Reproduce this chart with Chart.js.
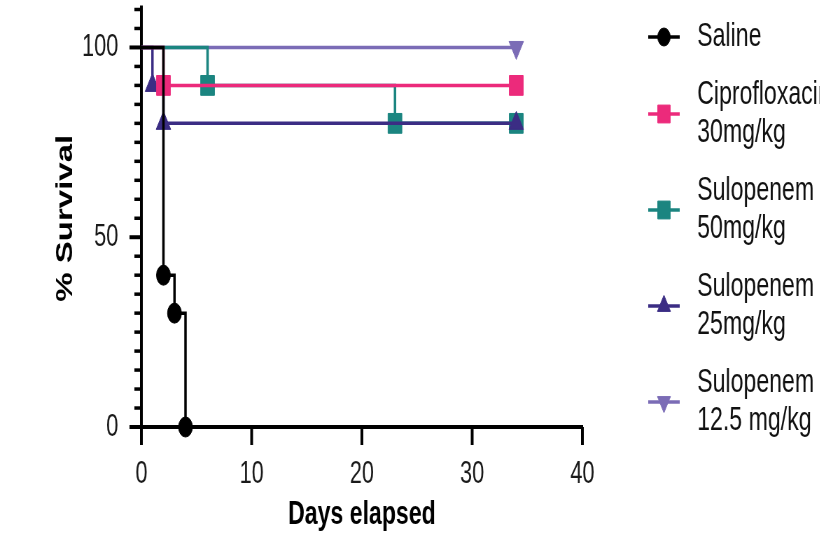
<!DOCTYPE html>
<html>
<head>
<meta charset="utf-8">
<title>Survival</title>
<script src="https://cdn.jsdelivr.net/npm/chart.js@4.4.1/dist/chart.umd.min.js"></script>
<style>
  html, body { margin: 0; padding: 0; background: #fff; overflow: hidden; }
  /* the source picture is squeezed sideways, so draw wide and squeeze it */
  #wrap { width: 1172px; height: 540px; transform: scaleX(0.7); transform-origin: 0 0; }
</style>
</head>
<body>
<div id="wrap"><canvas id="survivalChart"></canvas></div>
<script>
// === DATA (Kaplan-Meier steps: day of event, % survival after it) ===
const salineDays = [0, 2, 3, 4];
const salineSurvival = [100, 40, 30, 0];
const ciproDays = [0, 2, 34];
const ciproSurvival = [100, 90, 90];
const sul50Days = [0, 6, 23, 34];
const sul50Survival = [100, 90, 80, 80];
const sul25Days = [0, 1, 2, 34];
const sul25Survival = [100, 90, 80, 80];
const sul12Days = [0, 34];
const sul12Survival = [100, 100];

const legendLabels = [
  ['Saline'],
  ['Ciprofloxacin', '30mg/kg'],
  ['Sulopenem', '50mg/kg'],
  ['Sulopenem', '25mg/kg'],
  ['Sulopenem', '12.5 mg/kg']
];
const yLabelTicks = [0, 50, 100];

const FONT = '"Liberation Sans", Arial, sans-serif';
Chart.defaults.font.family = FONT;

function toPoints(days, surv) {
  return days.map((d, i) => ({ x: d, y: surv[i] }));
}

// no marker on the starting point
function markerSizes(days, r) {
  return days.map((d, i) => (i === 0 ? 0 : r));
}

const series = [
  { days: salineDays, surv: salineSurvival, color: '#000000', style: 'circle', r: 10, rot: 0, order: 0 },
  { days: ciproDays, surv: ciproSurvival, color: '#EC2A7B', style: 'rect', r: 14, rot: 0, order: 1 },
  { days: sul50Days, surv: sul50Survival, color: '#1B8580', style: 'rect', r: 14, rot: 0, order: 3 },
  { days: sul25Days, surv: sul25Survival, color: '#3B2D84', style: 'triangle', r: 12, rot: 0, order: 2 },
  { days: sul12Days, surv: sul12Survival, color: '#7B6CB6', style: 'triangle', r: 12, rot: 180, order: 4 }
];

const datasets = series.map((s, i) => ({
  label: legendLabels[i].join(' '),
  data: toPoints(s.days, s.surv),
  borderColor: s.color,
  backgroundColor: s.color,
  borderWidth: 3.5,
  stepped: 'before',
  fill: false,
  pointStyle: s.style,
  pointRotation: s.rot,
  pointRadius: markerSizes(s.days, s.r),
  pointHoverRadius: markerSizes(s.days, s.r),
  pointBorderWidth: 1,
  pointBackgroundColor: s.color,
  pointBorderColor: s.color,
  clip: false,
  order: s.order
}));

// fallback marker drawing for the legend
function drawMarker(ctx, style, x, y, r, rot) {
  if (Chart.helpers && Chart.helpers.drawPoint) {
    Chart.helpers.drawPoint(ctx, { pointStyle: style, radius: r, rotation: rot, borderWidth: 1 }, x, y);
    return;
  }
  ctx.beginPath();
  if (style === 'circle') {
    ctx.arc(x, y, r, 0, Math.PI * 2);
  } else if (style === 'rect') {
    const h = r * Math.SQRT1_2;
    ctx.rect(x - h, y - h, 2 * h, 2 * h);
  } else {
    let a = rot * Math.PI / 180;
    ctx.moveTo(x + Math.sin(a) * r, y - Math.cos(a) * r);
    a += 2 * Math.PI / 3;
    ctx.lineTo(x + Math.sin(a) * r, y - Math.cos(a) * r);
    a += 2 * Math.PI / 3;
    ctx.lineTo(x + Math.sin(a) * r, y - Math.cos(a) * r);
    ctx.closePath();
  }
  ctx.fill();
  ctx.stroke();
}

// === tick marks: long ones at labelled values, short minor ones ===
const axisTicks = {
  id: 'axisTicks',
  afterDraw(chart) {
    const { ctx, chartArea, scales } = chart;
    ctx.save();
    ctx.strokeStyle = '#000';
    scales.y.ticks.forEach(t => {
      const py = scales.y.getPixelForValue(t.value);
      const major = yLabelTicks.includes(t.value);
      ctx.lineWidth = major ? 4 : 3.5;
      ctx.beginPath();
      ctx.moveTo(chartArea.left - (major ? 17 : 10), py);
      ctx.lineTo(chartArea.left, py);
      ctx.stroke();
    });
    // axis line runs a little past the top tick
    ctx.lineWidth = 4;
    ctx.beginPath();
    ctx.moveTo(chartArea.left, chartArea.top);
    ctx.lineTo(chartArea.left, chartArea.top - 4);
    ctx.stroke();
    scales.x.ticks.forEach(t => {
      const px = scales.x.getPixelForValue(t.value);
      ctx.beginPath();
      ctx.moveTo(px, chartArea.bottom);
      ctx.lineTo(px, chartArea.bottom + 18);
      ctx.stroke();
    });
    ctx.restore();
  }
};

// === legend on the right: line + marker, text on one or two lines ===
const sideLegend = {
  id: 'sideLegend',
  afterDraw(chart) {
    const ctx = chart.ctx;
    const lineH = 38;
    let top = 18;
    ctx.save();
    ctx.font = '33px ' + FONT;
    ctx.textBaseline = 'middle';
    ctx.textAlign = 'left';
    series.forEach((s, i) => {
      const lines = legendLabels[i];
      const h = lines.length * lineH;
      const cy = top + h / 2;
      ctx.strokeStyle = s.color;
      ctx.fillStyle = s.color;
      ctx.lineWidth = 3.5;
      ctx.beginPath();
      ctx.moveTo(926, cy);
      ctx.lineTo(971, cy);
      ctx.stroke();
      ctx.lineWidth = 1;
      drawMarker(ctx, s.style, 948.5, cy, s.r * 0.9, s.rot);
      ctx.fillStyle = '#111';
      lines.forEach((txt, j) => {
        ctx.fillText(txt, 996, cy - (lines.length - 1) * lineH / 2 + j * lineH);
      });
      top += h + 20;
    });
    ctx.restore();
  }
};

new Chart(document.getElementById('survivalChart'), {
  type: 'line',
  data: { datasets: datasets },
  options: {
    responsive: true,
    maintainAspectRatio: false,
    animation: false,
    devicePixelRatio: 1,
    layout: { autoPadding: false, padding: { top: 9.5, right: 340, bottom: 0, left: 0 } },
    plugins: {
      legend: { display: false },
      tooltip: { enabled: false }
    },
    scales: {
      x: {
        type: 'linear',
        min: 0,
        max: 40,
        grid: { display: false },
        border: { display: true, color: '#000', width: 4 },
        ticks: {
          stepSize: 10,
          autoSkip: false,
          padding: 21,
          color: '#1a1a1a',
          font: { size: 31 }
        },
        title: {
          display: true,
          text: 'Days elapsed',
          color: '#000',
          font: { size: 33, weight: 'bold' },
          padding: { top: 0, bottom: 5 }
        },
        afterFit(scale) {
          scale.height = 113;
          scale.paddingLeft = 0;
          scale.paddingRight = 0;
        }
      },
      y: {
        min: 0,
        max: 110,
        grid: { display: false },
        border: { display: true, color: '#000', width: 4 },
        ticks: {
          stepSize: 5,
          autoSkip: false,
          padding: 25,
          color: '#1a1a1a',
          font: { size: 31 },
          callback: v => (yLabelTicks.includes(v) ? String(v) : '')
        },
        title: {
          display: true,
          text: '% Survival',
          color: '#000',
          font: { size: 33, weight: 'bold' },
          padding: { top: 74, bottom: 0 }
        },
        afterFit(scale) {
          scale.width = 202;
          scale.paddingTop = 0;
          scale.paddingBottom = 0;
        }
      }
    }
  },
  plugins: [axisTicks, sideLegend]
});
</script>
</body>
</html>
